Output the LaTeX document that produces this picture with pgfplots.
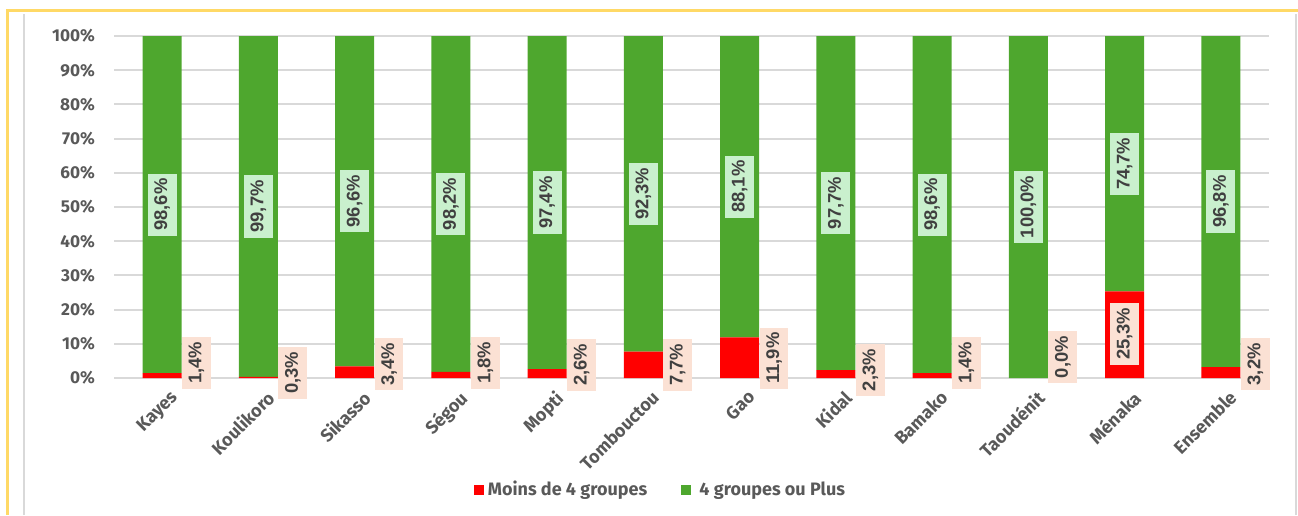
\documentclass[border=0pt]{standalone}
\usepackage{fontspec}
\setmainfont{Fira Sans}
\newfontfamily\labfont{Liberation Sans}
\usepackage{pgfplots}
\usepackage{pgfplotstable}
\pgfplotsset{compat=1.18}

\definecolor{barred}{HTML}{FF0000}
\definecolor{bargreen}{HTML}{4EA72E}
\definecolor{gboxfill}{HTML}{C9F0CD}
\definecolor{rboxfill}{HTML}{FBE1D4}
\definecolor{gridgray}{HTML}{D9D9D9}
\definecolor{tickgray}{HTML}{595959}
\definecolor{labgray}{HTML}{404040}
\definecolor{frameyellow}{HTML}{FFD966}

% x  moins de 4 | 4 ou plus
\pgfplotstableread{
x red green
0 1.4 98.6
1 0.3 99.7
2 3.4 96.6
3 1.8 98.2
4 2.6 97.4
5 7.7 92.3
6 11.9 88.1
7 2.3 97.7
8 1.4 98.6
9 0.0 100.0
10 25.3 74.7
11 3.2 96.8
}\data

\tikzset{
  lab/.style={rotate=90, font=\labfont\bfseries\fontsize{9.2}{11}\selectfont,
    text=labgray, inner xsep=2.5pt, inner ysep=3.3pt},
  glab/.style={lab, fill=gboxfill},
  rlab/.style={lab, fill=rboxfill, anchor=north},
}

\begin{document}
\begin{tikzpicture}
\path[use as bounding box] (0,0) rectangle (649pt,257.5pt);
\begin{axis}[
  at={(57pt,68.5pt)}, anchor=south west,
  scale only axis, width=577.5pt, height=171pt,
  ybar stacked, bar width=19.5pt,
  xmin=-0.5, xmax=11.5, ymin=0, ymax=100,
  ytick={0,10,...,100},
  yticklabel={\pgfmathprintnumber{\tick}\%},
  /pgf/number format/assume math mode=true,
  xtick={0,...,11},
  xticklabels={Kayes,Koulikoro,Sikasso,Ségou,Mopti,Tombouctou,Gao,Kidal,Bamako,Taoudénit,Ménaka,Ensemble},
  x tick label style={rotate=45, anchor=north east, yshift=-3pt, xshift=2pt,
    font=\bfseries\fontsize{9}{10}\selectfont},
  y tick label style={xshift=-6pt, font=\bfseries\fontsize{8.6}{10}\selectfont},
  tick label style={text=tickgray},
  major tick length=0pt,
  axis line style={draw=none},
  ymajorgrids, grid style={gridgray, line width=1pt},
  clip=false,
  legend columns=2,
  legend style={at={(0.474,-0.327)}, anchor=center, draw=none, fill=none,
    font=\bfseries\fontsize{9}{10}\selectfont, text=tickgray,
    /tikz/every even column/.append style={column sep=15pt}},
  legend image code/.code={\fill[#1] (0pt,-2.5pt) rectangle (5pt,2.5pt);},
]
\addplot[fill=barred, draw=none] table[x=x, y=red] {\data};
\addlegendentry{Moins de 4 groupes}
\addplot[fill=bargreen, draw=none] table[x=x, y=green] {\data};
\addlegendentry{\ 4 groupes ou Plus}

% label anchors (green: middle of segment; red: beside the bar)
\coordinate (g0) at (axis cs:0,50.7);
\coordinate (g1) at (axis cs:1,50.15);
\coordinate (g2) at (axis cs:2,51.7);
\coordinate (g3) at (axis cs:3,50.9);
\coordinate (g4) at (axis cs:4,51.3);
\coordinate (g5) at (axis cs:5,53.85);
\coordinate (g6) at (axis cs:6,55.95);
\coordinate (g7) at (axis cs:7,51.15);
\coordinate (g8) at (axis cs:8,50.7);
\coordinate (g9) at (axis cs:9,50);
\coordinate (g10) at (axis cs:10,62.65);
\coordinate (g11) at (axis cs:11,51.6);
\coordinate (r0) at (axis cs:0.203,4.5);
\coordinate (r1) at (axis cs:1.203,1.5);
\coordinate (r2) at (axis cs:2.203,4.0);
\coordinate (r3) at (axis cs:3.203,4.5);
\coordinate (r4) at (axis cs:4.203,3.8);
\coordinate (r5) at (axis cs:5.203,3.8);
\coordinate (r6) at (axis cs:6.203,5.8);
\coordinate (r7) at (axis cs:7.203,2.3);
\coordinate (r8) at (axis cs:8.203,4.4);
\coordinate (r9) at (axis cs:9.203,6.1);
\coordinate (r10) at (axis cs:10,12.9);
\coordinate (r11) at (axis cs:11.203,4.0);
\end{axis}

\node[glab] at (g0) {98,6\%};
\node[glab] at (g1) {99,7\%};
\node[glab] at (g2) {96,6\%};
\node[glab] at (g3) {98,2\%};
\node[glab] at (g4) {97,4\%};
\node[glab] at (g5) {92,3\%};
\node[glab] at (g6) {88,1\%};
\node[glab] at (g7) {97,7\%};
\node[glab] at (g8) {98,6\%};
\node[glab] at (g9) {100,0\%};
\node[glab] at (g10) {74,7\%};
\node[glab] at (g11) {96,8\%};
\node[rlab] at (r0) {1,4\%};
\node[rlab] at (r1) {0,3\%};
\node[rlab] at (r2) {3,4\%};
\node[rlab] at (r3) {1,8\%};
\node[rlab] at (r4) {2,6\%};
\node[rlab] at (r5) {7,7\%};
\node[rlab] at (r6) {11,9\%};
\node[rlab] at (r7) {2,3\%};
\node[rlab] at (r8) {1,4\%};
\node[rlab] at (r9) {0,0\%};
\node[lab, fill=rboxfill] at (r10) {25,3\%};
\node[rlab] at (r11) {3,2\%};

% frame
\draw[frameyellow, line width=1.5pt] (3.5pt,0) -- (3.5pt,252pt) -- (649pt,252pt);
\draw[gridgray, line width=1pt] (12pt,0) -- (12pt,250.5pt);
\draw[gridgray, line width=1pt] (648pt,0) -- (648pt,250.5pt);
\end{tikzpicture}
\end{document}
